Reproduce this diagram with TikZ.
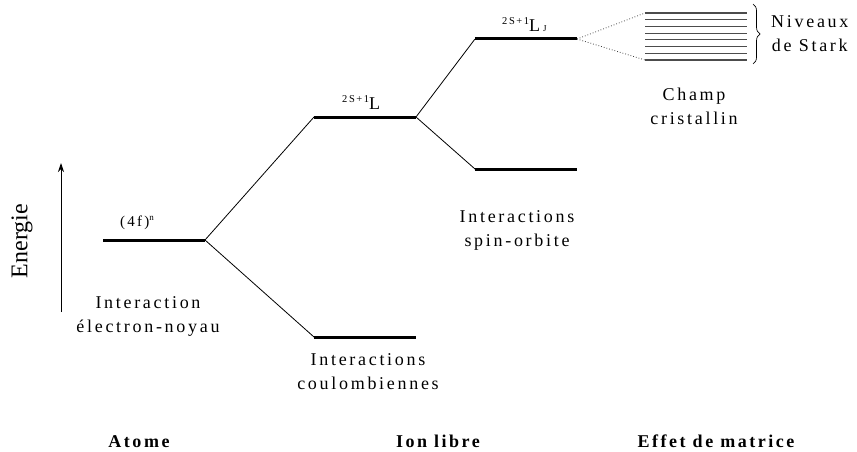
\documentclass[tikz,border=0pt]{standalone}
\usepackage{fontspec}
\setmainfont{Liberation Serif}
\newfontfamily\spc[LetterSpace=15]{Liberation Serif}
\newfontfamily\spcb[LetterSpace=14]{Liberation Serif}
\usetikzlibrary{arrows.meta,decorations.pathreplacing}
\begin{document}
\begin{tikzpicture}[x=1pt,y=-1pt,
  level/.style={line width=3pt},
  link/.style={line width=0.8pt},
  dotlink/.style={line width=0.8pt,dotted,gray!50!black},
  starkline/.style={line width=1.1pt,gray!60!black},
  lbl/.style={font=\spc\fontsize{18}{24}\selectfont,align=center,inner sep=0pt},
  ttl/.style={font=\spcb\bfseries\fontsize{18}{20}\selectfont,inner sep=0pt,anchor=base},
  term/.style={inner sep=0pt,anchor=base west}]
\useasboundingbox (0,0) rectangle (857,452);
% level end points
\coordinate (a1) at (103,240); \coordinate (a2) at (205,240);
\coordinate (b1) at (314,117); \coordinate (b2) at (416,117);
\coordinate (c1) at (314,337); \coordinate (c2) at (416,337);
\coordinate (d1) at (475,39);  \coordinate (d2) at (577,39);
\coordinate (e1) at (475,169); \coordinate (e2) at (577,169);
\coordinate (st) at (645,13);  \coordinate (sb) at (645,60);
% levels
\draw[level] (a1) -- (a2);
\draw[level] (b1) -- (b2);
\draw[level] (c1) -- (c2);
\draw[level] (d1) -- (d2);
\draw[level] (e1) -- (e2);
% connectors
\draw[link] (a2) -- (b1);
\draw[link] (a2) -- (c1);
\draw[link] (b2) -- (d1);
\draw[link] (b2) -- (e1);
\draw[dotlink] (d2) -- (st);
\draw[dotlink] (d2) -- (sb);
% Stark levels
\foreach \k in {0,...,7}{
  \draw[starkline] (645,{13+\k*6.714}) -- (747,{13+\k*6.714});
}
% brace
\coordinate (bt) at (753,4); \coordinate (bb) at (753,64);
\draw[line width=0.7pt,decorate,decoration={brace,amplitude=7pt}] (bt) -- (bb);
% energy arrow
\coordinate (eb) at (61,312); \coordinate (et) at (61,163);
\draw[line width=0.9pt,-{Stealth[length=9pt,width=6pt]}] (eb) -- (et);
\node[rotate=90,inner sep=0pt,font=\fontsize{24}{24}\selectfont] (energie) at (22,241) {Energie};
% term labels
\node[term] (t4f) at (120,226) {\spc\fontsize{15}{15}\selectfont(4f)\raisebox{5.5pt}{\fontsize{9}{9}\selectfont n}};
\node[term] (tL) at (342,110) {\raisebox{7pt}{\spc\fontsize{10.5}{10}\selectfont 2S+1}\fontsize{18}{18}\selectfont L};
\node[term] (tLJ) at (502,32) {\raisebox{7pt}{\spc\fontsize{10.5}{10}\selectfont 2S+1}\fontsize{18}{18}\selectfont L\hspace{3pt}{\fontsize{9}{9}\selectfont J}};
% descriptive labels
\node[lbl] (ien) at (148,316) {Interaction\\électron-noyau};
\node[lbl] (icb) at (368,372) {Interactions\\coulombiennes};
\node[lbl] (iso) at (517,230) {Interactions\\spin-orbite};
\node[lbl] (chc) at (694,106) {Champ\\cristallin};
\node[lbl,anchor=west] (nds) at (771,34) {Niveaux\\de Stark};
% column titles
\node[ttl] (atome) at (139,447) {Atome};
\node[ttl] (ion) at (438,447) {Ion libre};
\node[ttl] (eff) at (716,447) {Effet de matrice};
\end{tikzpicture}
\end{document}
